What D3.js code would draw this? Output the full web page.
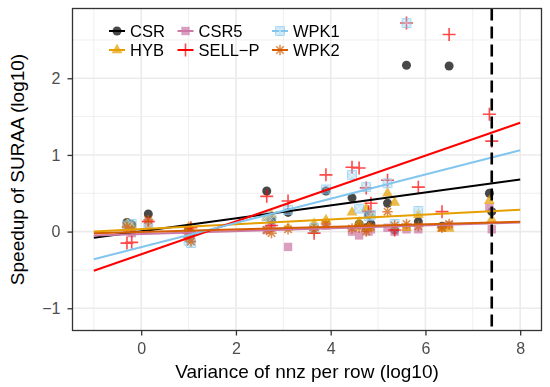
<!DOCTYPE html>
<html>
<head>
<meta charset="utf-8">
<script src="https://cdn.jsdelivr.net/npm/d3@7"></script>
<style>
  body { margin: 0; background: #fff; }
  svg { font-family: 'Liberation Sans', Arial, sans-serif; }
</style>
</head>
<body>
<svg id="board"></svg>
<script>
// one value per matrix, log10 of the nnz-per-row variance
let variance = [-0.3, -0.2, 0.15, 1.0, 1.05, 2.65, 2.75, 3.1, 3.65, 3.9, 4.45, 4.6, 4.75, 4.85, 4.8, 5.2, 5.35, 5.6, 5.85, 6.35, 6.5, 7.35, 7.4]

// speedup of SURAA (log10) over each format, same order as variance
let csr   = [0.12, 0.09, 0.23, 0.03, -0.02, 0.53, 0.15, 0.25, 0.05, 0.53, 0.44, 0.10, 0.05, 0.10, 0.22, 0.37, 0.02, 2.17, 0.13, 0.07, 2.16, 0.50, 0.26]
let csr5  = [0.05, -0.02, 0.12, -0.05, -0.10, 0.02, 0.05, -0.20, 0.03, 0.08, 0.00, -0.05, 0.02, 0.03, 0.00, 0.05, 0.00, 0.03, 0.03, 0.05, 0.08, 0.31, 0.03]
let hyb   = [0.10, 0.07, 0.05, 0.06, 0.03, 0.18, 0.22, 0.05, 0.10, 0.15, 0.25, 0.12, 0.30, 0.22, 0.05, 0.50, 0.38, 0.05, 0.22, 0.04, 0.04, 0.40, 0.16]
let sellp = [-0.15, -0.14, 0.13, -0.02, 0.05, 0.46, 0.08, 0.40, -0.02, 0.74, 0.84, 0.83, 0.57, 0.37, 0.26, 0.67, 0.02, 2.72, 0.58, 0.26, 2.57, 1.53, 1.18]
let wpk1  = [0.08, 0.10, 0.05, -0.12, -0.15, 0.20, 0.17, 0.28, 0.05, 0.55, 0.74, 0.30, 0.58, 0.22, 0.20, 0.63, 0.10, 2.72, 0.27, null, null, null, null]
let wpk2  = [0.06, 0.02, 0.15, -0.08, -0.13, 0.02, -0.02, 0.03, 0.02, 0.10, 0.04, 0.05, 0.00, 0.06, 0.05, 0.26, 0.08, 0.10, 0.07, 0.05, 0.10, null, null]

let formats = ['CSR', 'CSR5', 'HYB', 'SELL-P', 'WPK1', 'WPK2']
let speedups = [csr, csr5, hyb, sellp, wpk1, wpk2]

// linear fits, at x = -1 and x = 8
let fitRange = [-1, 8]
let fitStart = [-0.08, -0.05, 0.0, -0.51, -0.36, -0.02]
let fitEnd   = [0.68, 0.12, 0.285, 1.42, 1.06, 0.13]

let xTicks = [0, 2, 4, 6, 8]
let xMinor = [-1, 1, 3, 5, 7]
let yTicks = [-1, 0, 1, 2]
let yMinor = [-0.5, 0.5, 1.5, 2.5]
let cutoff = 7.4

let colors = {
    'CSR': '#000000',
    'CSR5': '#CC79A7',
    'HYB': '#E69F00',
    'SELL-P': '#FF0000',
    'WPK1': '#82C6EE',
    'WPK2': '#D55E00'
}

let width = 550
let height = 387
let plotLeft = 72.5
let plotRight = 541.5
let plotTop = 8.5
let plotBottom = 330.5

let board = d3.select('#board')
                .attr('width', width)
                .attr('height', height)

let xScale = d3.scaleLinear()
                .domain([-1.45, 8.45])
                .range([plotLeft, plotRight])

let yScale = d3.scaleLinear()
                .domain([-1.29, 2.91])
                .range([plotBottom, plotTop])

// point glyphs, drawn around 0,0
let drawShape = function(g, fmt) {
    let c = colors[fmt]
    if (fmt == 'CSR') {
        g.append('circle').attr('r', 4.5).attr('fill', c)
    } else if (fmt == 'CSR5') {
        g.append('rect').attr('x', -4.2).attr('y', -4.2).attr('width', 8.4).attr('height', 8.4).attr('fill', c)
    } else if (fmt == 'HYB') {
        g.append('path').attr('d', d3.symbol(d3.symbolTriangle, 52)()).attr('fill', c)
    } else if (fmt == 'SELL-P') {
        g.append('path').attr('d', 'M-6.5,0H6.5M0,-6.5V6.5')
            .attr('stroke', c).attr('stroke-width', 1.6).attr('fill', 'none')
    } else if (fmt == 'WPK1') {
        g.append('rect').attr('x', -4.4).attr('y', -4.4).attr('width', 8.8).attr('height', 8.8)
            .attr('fill', c).attr('fill-opacity', 0.6)
            .attr('stroke', c).attr('stroke-width', 1)
        g.append('path').attr('d', 'M-4.4,-4.4L4.4,4.4M-4.4,4.4L4.4,-4.4')
            .attr('stroke', '#fff').attr('stroke-opacity', 0.6).attr('stroke-width', 1)
    } else {
        g.append('path').attr('d', 'M-5.2,0H5.2M0,-5.2V5.2M-3.7,-3.7L3.7,3.7M-3.7,3.7L3.7,-3.7')
            .attr('stroke', c).attr('stroke-width', 1.5).attr('fill', 'none')
    }
}

let makeGrid = () => {
    let grid = board.append('g')
    grid.selectAll('.vminor').data(xMinor).enter().append('line')
        .attr('x1', d => xScale(d)).attr('x2', d => xScale(d))
        .attr('y1', plotTop).attr('y2', plotBottom)
        .attr('stroke', '#EBEBEB').attr('stroke-width', 0.8)
    grid.selectAll('.hminor').data(yMinor).enter().append('line')
        .attr('y1', d => yScale(d)).attr('y2', d => yScale(d))
        .attr('x1', plotLeft).attr('x2', plotRight)
        .attr('stroke', '#EBEBEB').attr('stroke-width', 0.8)
    grid.selectAll('.vmajor').data(xTicks).enter().append('line')
        .attr('x1', d => xScale(d)).attr('x2', d => xScale(d))
        .attr('y1', plotTop).attr('y2', plotBottom)
        .attr('stroke', '#EBEBEB').attr('stroke-width', 1.6)
    grid.selectAll('.hmajor').data(yTicks).enter().append('line')
        .attr('y1', d => yScale(d)).attr('y2', d => yScale(d))
        .attr('x1', plotLeft).attr('x2', plotRight)
        .attr('stroke', '#EBEBEB').attr('stroke-width', 1.6)
}

let makePoints = () => {
    formats.forEach((fmt, i) => {
        let pts = variance.map((v, j) => ({x: v, y: speedups[i][j]})).filter(d => d.y != null)
        board.append('g')
            .attr('opacity', 0.72)
            .selectAll('g')
            .data(pts)
            .enter()
            .append('g')
            .attr('transform', d => 'translate(' + xScale(d.x) + ',' + yScale(d.y) + ')')
            .each(function() { drawShape(d3.select(this), fmt) })
    })
}

let makeFits = () => {
    formats.forEach((fmt, i) => {
        board.append('line')
            .attr('x1', xScale(fitRange[0])).attr('y1', yScale(fitStart[i]))
            .attr('x2', xScale(fitRange[1])).attr('y2', yScale(fitEnd[i]))
            .attr('stroke', colors[fmt])
            .attr('stroke-width', 2)
    })
    board.append('line')
        .attr('x1', xScale(cutoff)).attr('x2', xScale(cutoff))
        .attr('y1', plotTop).attr('y2', plotBottom)
        .attr('stroke', '#000')
        .attr('stroke-width', 2.6)
        .attr('stroke-dasharray', '12,6')
}

let makeAxes = function() {
    let xAxis = d3.axisBottom(xScale)
                .tickValues(xTicks)
                .tickSize(5)
                .tickPadding(7)
                .tickFormat(d3.format('d'))
    let gx = board.append('g')
        .attr('transform', 'translate(0,' + plotBottom + ')')
        .call(xAxis)
    gx.select('.domain').remove()
    gx.selectAll('line').attr('stroke', '#333').attr('stroke-width', 1.3)
    gx.selectAll('text').attr('fill', '#4D4D4D').style('font-size', '16px')
        .style('font-family', 'Liberation Sans, Arial, sans-serif')

    let yAxis = d3.axisLeft(yScale)
                .tickValues(yTicks)
                .tickSize(5)
                .tickPadding(7)
                .tickFormat(d => d < 0 ? '\u2212' + Math.abs(d) : d)
    let gy = board.append('g')
        .attr('transform', 'translate(' + plotLeft + ',0)')
        .call(yAxis)
    gy.select('.domain').remove()
    gy.selectAll('line').attr('stroke', '#333').attr('stroke-width', 1.3)
    gy.selectAll('text').attr('fill', '#4D4D4D').style('font-size', '16px')
        .style('font-family', 'Liberation Sans, Arial, sans-serif')

    board.append('rect')
        .attr('x', plotLeft).attr('y', plotTop)
        .attr('width', plotRight - plotLeft).attr('height', plotBottom - plotTop)
        .attr('fill', 'none')
        .attr('stroke', '#333')
        .attr('stroke-width', 1.3)

    board.append('text')
        .attr('x', (plotLeft + plotRight) / 2)
        .attr('y', 378)
        .attr('text-anchor', 'middle')
        .style('font-size', '19px')
        .text('Variance of nnz per row (log10)')

    board.append('text')
        .attr('transform', 'translate(24,' + ((plotTop + plotBottom) / 2) + ') rotate(-90)')
        .attr('text-anchor', 'middle')
        .style('font-size', '19px')
        .text('Speedup of SURAA (log10)')
}

let makeLegend = () => {
    let cols = [117, 185.5, 280]
    let rows = [31, 50]
    let order = ['CSR', 'CSR5', 'WPK1', 'HYB', 'SELL-P', 'WPK2']
    order.forEach((fmt, k) => {
        let cx = cols[k % 3]
        let cy = rows[Math.floor(k / 3)]
        let key = board.append('g').attr('transform', 'translate(' + cx + ',' + cy + ')')
        key.append('line').attr('x1', -8).attr('x2', 8)
            .attr('stroke', colors[fmt]).attr('stroke-width', 2)
        let glyph = key.append('g').attr('opacity', 0.72)
        drawShape(glyph, fmt)
        board.append('text')
            .attr('x', cx + 13)
            .attr('y', cy + 6)
            .style('font-size', '16.5px')
            .text(fmt.replace('-', '\u2212'))
    })
}

makeGrid()
makePoints()
makeFits()
makeAxes()
makeLegend()
</script>
</body>
</html>
